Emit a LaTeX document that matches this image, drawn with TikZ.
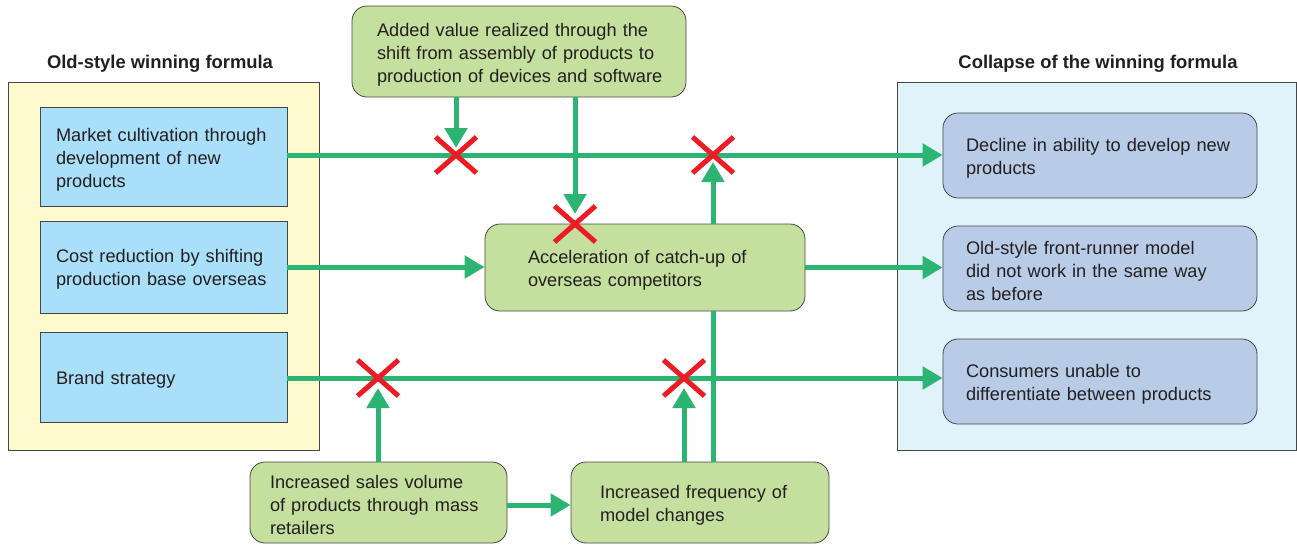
\documentclass[tikz,border=0pt]{standalone}
\usepackage{fontspec}
\setmainfont{Liberation Sans}
\usetikzlibrary{arrows.meta,shapes.misc,calc}
\definecolor{gline}{RGB}{44,180,115}
\definecolor{xred}{RGB}{237,28,36}
\definecolor{ypanel}{RGB}{255,250,206}
\definecolor{bpanel}{RGB}{224,242,250}
\definecolor{bluebox}{RGB}{170,223,250}
\definecolor{slatebox}{RGB}{184,204,232}
\definecolor{greenbox}{RGB}{197,223,158}
\definecolor{txt}{RGB}{35,31,32}
\definecolor{edge}{RGB}{70,70,70}
\begin{document}
\begin{tikzpicture}[x=1pt,y=-1pt,
  every node/.style={text=txt},
  panel/.style={draw=edge, line width=1pt},
  sqbox/.style={draw=edge, line width=0.8pt, fill=bluebox, align=left,
    font=\fontsize{18.2}{23}\selectfont, inner ysep=0pt, inner xsep=16pt,
    text width=215pt, minimum height=#1, execute at begin node={\rule{0pt}{18pt}}},
  rbox/.style={draw=edge, line width=0.8pt, rounded corners=15pt, align=left,
    font=\fontsize{18.2}{23}\selectfont, inner ysep=0pt, execute at begin node={\rule{0pt}{19pt}}},
  ttl/.style={font=\fontsize{18.4}{20}\selectfont\bfseries},
  arr/.style={draw=gline, line width=5pt, -{Triangle[length=20pt,width=22pt]}},
  ln/.style={draw=gline, line width=5pt},
  xmark/.style={cross out, draw=xred, line width=5pt, minimum width=36pt, minimum height=31pt, inner sep=0pt}
]
\useasboundingbox (0,0) rectangle (1297,544);
% panels
\draw[panel, fill=ypanel] (8,82) rectangle (319,450);
\draw[panel, fill=bpanel] (897,82) rectangle (1296.5,450);
\node[ttl] (lt) at (160,64) {Old-style winning formula};
\node[ttl] (rt) at (1098,64) {Collapse of the winning formula};
% left boxes
\node[sqbox=99pt] (b1) at (163.5,157) {Market cultivation through\\development of new\\products};
\node[sqbox=92pt] (b2) at (163.5,267) {Cost reduction by shifting\\production base overseas};
\node[sqbox=90pt] (b3) at (163.5,377) {Brand strategy};
% right boxes
\node[rbox, fill=slatebox, inner xsep=23pt, text width=268pt, minimum height=85pt] (r1) at (1100,155.5) {Decline in ability to develop new\\products};
\node[rbox, fill=slatebox, inner xsep=23pt, text width=268pt, minimum height=85pt] (r2) at (1100,268.5) {Old-style front-runner model\\did not work in the same way\\as before};
\node[rbox, fill=slatebox, inner xsep=23pt, text width=268pt, minimum height=85pt] (r3) at (1100,381.5) {Consumers unable to\\differentiate between products};
% green boxes
\node[rbox, fill=greenbox, inner xsep=25pt, text width=284pt, minimum height=91pt] (t) at (519,51.5) {\mbox{Added value realized through the}\\\mbox{shift from assembly of products to}\\\mbox{production of devices and software}};
\node[rbox, fill=greenbox, inner xsep=43pt, text width=234pt, minimum height=87pt] (c) at (645,267.5) {Acceleration of catch-up of\\overseas competitors};
\node[rbox, fill=greenbox, inner xsep=20pt, text width=217pt, minimum height=81pt] (bl) at (378.5,502.5) {Increased sales volume\\of products through mass\\retailers};
\node[rbox, fill=greenbox, inner xsep=29pt, text width=200pt, minimum height=81pt] (br) at (700,502.5) {Increased frequency of\\model changes};
% crossing points
\coordinate (k1) at (456,155);
\coordinate (k2) at (713,155);
\coordinate (k3) at (575,224);
\coordinate (k4) at (378,378);
\coordinate (k5) at (684,378);
% horizontal connectors
\draw[arr] (b1.east |- k1) -- (r1.west |- k1);
\draw[arr] (b2.east) -- (c.west |- b2.east);
\draw[arr] (c.east) -- (r2.west |- c.east);
\draw[arr] (b3.east |- k4) -- (r3.west |- k4);
\draw[arr] (bl.east |- 0,505) -- (br.west |- 0,505);
% vertical connectors
\draw[arr] (t.south -| k1) -- ([yshift=7pt]k1);
\draw[arr] (t.south -| k3) -- ([yshift=10pt]k3);
\draw[arr] (c.north -| k2) -- ([yshift=-7pt]k2);
\draw[arr] (bl.north -| k4) -- ([yshift=-10pt]k4);
\draw[arr] (br.north -| k5) -- ([yshift=-10pt]k5);
\draw[ln] (br.north -| k2) -- (c.south -| k2);
% crosses
\node[xmark] (x1) at (k1) {};
\node[xmark] (x2) at (k2) {};
\node[xmark] (x3) at (k3) {};
\node[xmark] (x4) at (k4) {};
\node[xmark] (x5) at (k5) {};
\end{tikzpicture}
\end{document}
